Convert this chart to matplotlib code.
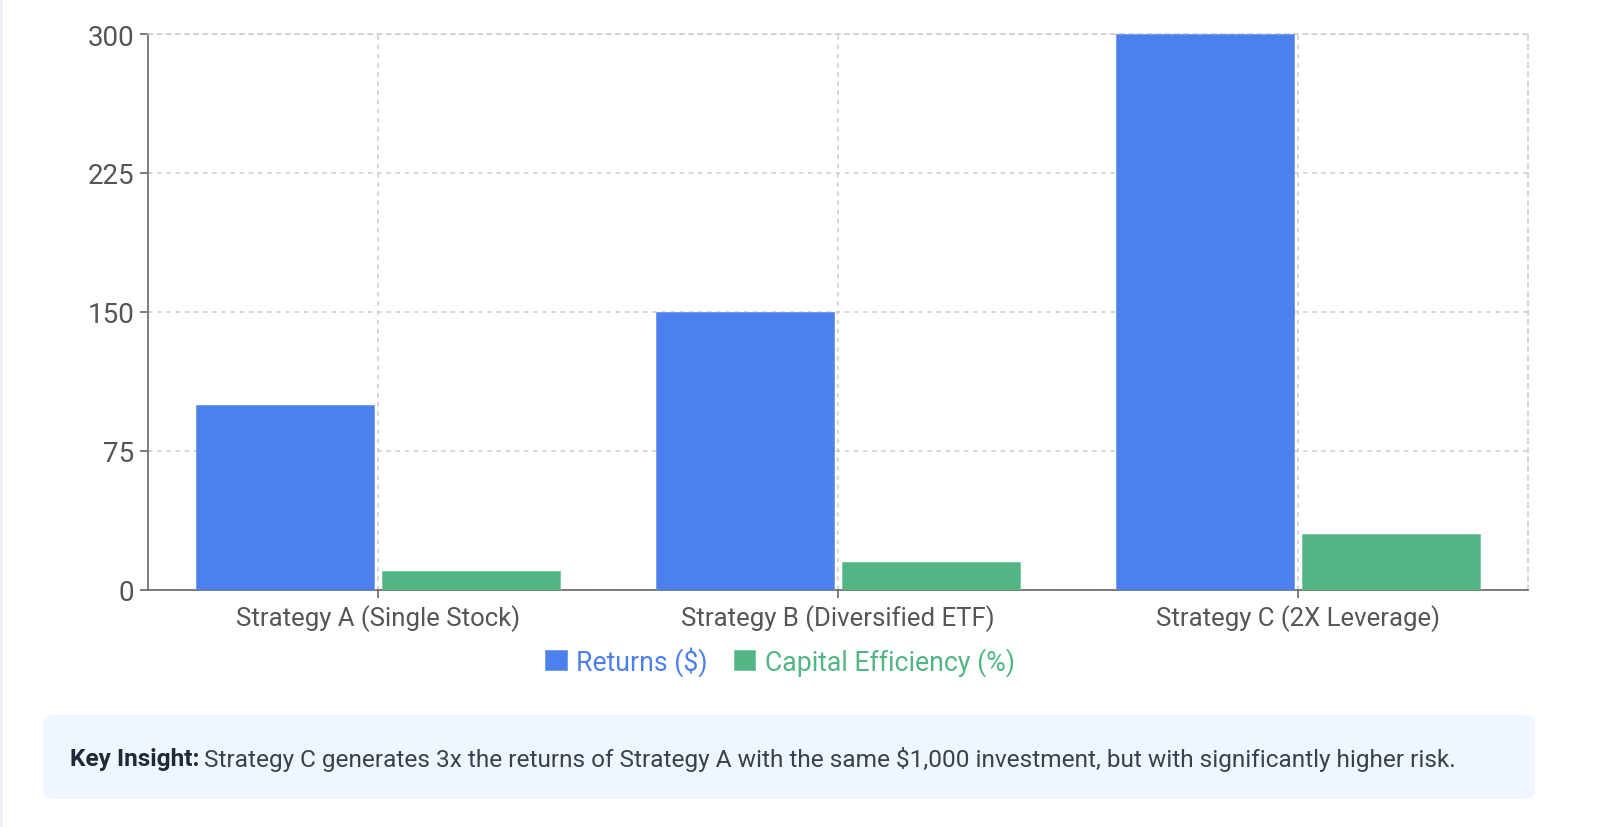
import matplotlib
matplotlib.use("Agg")
import matplotlib.pyplot as plt
import numpy as np
from matplotlib.patches import FancyBboxPatch, Rectangle

plt.rcParams['font.family'] = ['Roboto', 'DejaVu Sans']

categories = ["Strategy A (Single Stock)", "Strategy B (Diversified ETF)", "Strategy C (2X Leverage)"]
returns = [100, 150, 300]
efficiency = [10, 15, 30]
y_ticks = [0, 75, 150, 225, 300]

BLUE = "#4C80EC"
GREEN = "#52B584"
GRID = "#CCCCCC"
AXIS = "#666666"

fig = plt.figure(figsize=(16, 8.28), dpi=100)
ax = fig.add_axes([148/1600, 1-591/828, 1380/1600, 556/828])

x = np.arange(len(categories))
w = 0.387
ax.bar(x - 0.202, returns, w, color=BLUE, edgecolor="#6F98F0", linewidth=0.6, label="Returns ($)", zorder=3)
ax.bar(x + 0.202, efficiency, w, color=GREEN, edgecolor="#74C69D", linewidth=0.6, label="Capital Efficiency (%)", zorder=3)

ax.set_xlim(-0.5, 2.5)
ax.set_ylim(0, 300)
ax.set_xticks(x)
ax.set_xticklabels(categories)
ax.set_yticks(y_ticks)
ax.tick_params(axis='both', colors=AXIS, labelcolor="#555555", length=6, width=1.2)
ax.tick_params(axis='x', pad=4, labelsize=18.5)
ax.tick_params(axis='y', pad=4, labelsize=20)

ax.grid(True, color=GRID, linestyle=(0, (3, 3)), linewidth=1.1, zorder=0)
ax.spines['left'].set_color(AXIS)
ax.spines['bottom'].set_color(AXIS)
ax.spines['left'].set_linewidth(1.2)
ax.spines['bottom'].set_linewidth(1.2)
for s in ['top', 'right']:
    ax.spines[s].set_color(GRID)
    ax.spines[s].set_linestyle((0, (3, 3)))
    ax.spines[s].set_linewidth(1.1)

leg = fig.legend(loc='center', bbox_to_anchor=(780/1600, 1-662/828), ncol=2, frameon=False,
                 fontsize=19.2, handlelength=0.8, handleheight=0.8, handletextpad=0.35,
                 columnspacing=1.0)
for t, c in zip(leg.get_texts(), [BLUE, GREEN]):
    t.set_color(c)

# insight box
box = FancyBboxPatch((43/1600, 1-800/828), (1535-43)/1600, (800-716)/828,
                     boxstyle="round,pad=0,rounding_size=0.008", transform=fig.transFigure,
                     facecolor="#EFF6FF", edgecolor="none")
fig.patches.append(box)
fig.patches.append(Rectangle((0, 0), 3/1600, 1, transform=fig.transFigure,
                             facecolor="#EEF1F5", edgecolor="none"))

ty = 1 - 760/828
t1 = fig.text(70/1600, ty, "Key Insight:", fontsize=17.6, fontweight='bold', color="#1F2937", va='center')
fig.canvas.draw()
bb = t1.get_window_extent()
fig.text((bb.x1 + 5)/1600, ty,
         "Strategy C generates 3x the returns of Strategy A with the same $1,000 investment, but with significantly higher risk.",
         fontsize=17.6, color="#374151", va='center')

fig.savefig("out.png", dpi=100)
